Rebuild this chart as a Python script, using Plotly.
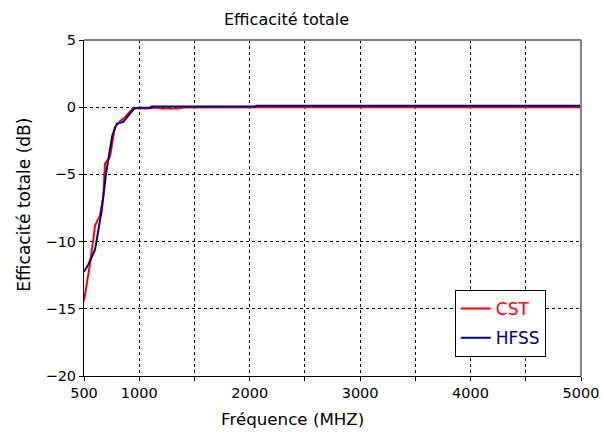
import plotly.graph_objects as go

# CST curve
cst_freq = [500, 554, 600, 645, 675, 690, 735, 780, 826, 871, 947, 1000, 1100, 1150, 1200, 1350, 1400, 2000, 3000, 4000, 5000]
cst_db = [-14.4, -11.7, -8.8, -8.05, -6.6, -4.2, -3.7, -1.48, -1.05, -0.75, -0.05, -0.1, -0.08, -0.02, -0.1, -0.1, -0.02, 0.0, 0.0, 0.0, 0.0]

# HFSS curve
hfss_freq = [500, 539, 600, 660, 699, 720, 756, 796, 856, 953, 1000, 1098, 1110, 2049, 2060, 3000, 4000, 5000]
hfss_db = [-12.25, -11.7, -10.6, -7.7, -4.95, -3.96, -2.1, -1.23, -1.1, -0.1, -0.05, -0.05, 0.05, 0.05, 0.1, 0.1, 0.1, 0.1]

x_tickvals = [500, 1000, 1500, 2000, 2500, 3000, 3500, 4000, 4500, 5000]
x_ticktext = ["500", "1000", "", "2000", "", "3000", "", "4000", "", "5000"]
y_tickvals = [-20, -15, -10, -5, 0, 5]

title_text = "Efficacité totale"
x_title = "Fréquence (MHZ)"
y_title = "Efficacité totale (dB)"

FONT = "DejaVu Sans"

fig = go.Figure()
fig.add_trace(go.Scatter(x=cst_freq, y=cst_db, mode="lines",
                         name="<span style='color:#ff0000'>CST</span>",
                         line=dict(color="#ff0000", width=2), legendgroup="a"))
fig.add_trace(go.Scatter(x=hfss_freq, y=hfss_db, mode="lines",
                         name="<span style='color:#000080'>HFSS</span>",
                         line=dict(color="#000080", width=2), legendgroup="b"))

fig.update_layout(
    width=603, height=440, autosize=False,
    margin=dict(l=84, r=22, t=40, b=64),
    paper_bgcolor="white", plot_bgcolor="white",
    font=dict(family=FONT, size=14.5, color="black"),
    showlegend=True,
    legend=dict(x=0.746, y=0.256, xanchor="left", yanchor="top",
                bgcolor="white", bordercolor="black", borderwidth=1,
                font=dict(size=17, family=FONT),
                traceorder="grouped", tracegroupgap=4),
    xaxis=dict(range=[500, 5000], tickvals=x_tickvals, ticktext=x_ticktext,
               automargin=False,
               showgrid=True, gridcolor="black", gridwidth=1, griddash="3px,3px",
               showline=True, linecolor="black", linewidth=1,
               ticks="outside", ticklen=4, tickcolor="black", zeroline=False),
    yaxis=dict(range=[-20, 5], tickvals=y_tickvals,
               automargin=False,
               showgrid=True, gridcolor="black", gridwidth=1, griddash="3px,3px",
               showline=True, linecolor="black", linewidth=1,
               ticks="outside", ticklen=4, tickcolor="black", zeroline=False),
    shapes=[
        dict(type="line", xref="paper", yref="paper", x0=0, x1=1, y0=1, y1=1,
             line=dict(color="#808080", width=2)),
        dict(type="line", xref="paper", yref="paper", x0=1, x1=1, y0=0, y1=1,
             line=dict(color="#808080", width=2)),
    ],
    annotations=[
        dict(text=title_text, xref="paper", yref="paper", x=0.408, y=1.0, yshift=21,
             xanchor="center", yanchor="middle", showarrow=False, font=dict(size=16)),
        dict(text=x_title, xref="paper", yref="paper", x=0.42, y=0, yshift=-43,
             xanchor="center", yanchor="middle", showarrow=False, font=dict(size=16.7)),
        dict(text=y_title, xref="paper", yref="paper", x=0, xshift=-60, y=0.51,
             xanchor="center", yanchor="middle", showarrow=False, textangle=-90,
             font=dict(size=17)),
    ],
)

fig.write_html("out.html",
               config={"displayModeBar": False, "responsive": False},
               post_script="document.body.style.margin='0';document.body.style.overflow='hidden';")
